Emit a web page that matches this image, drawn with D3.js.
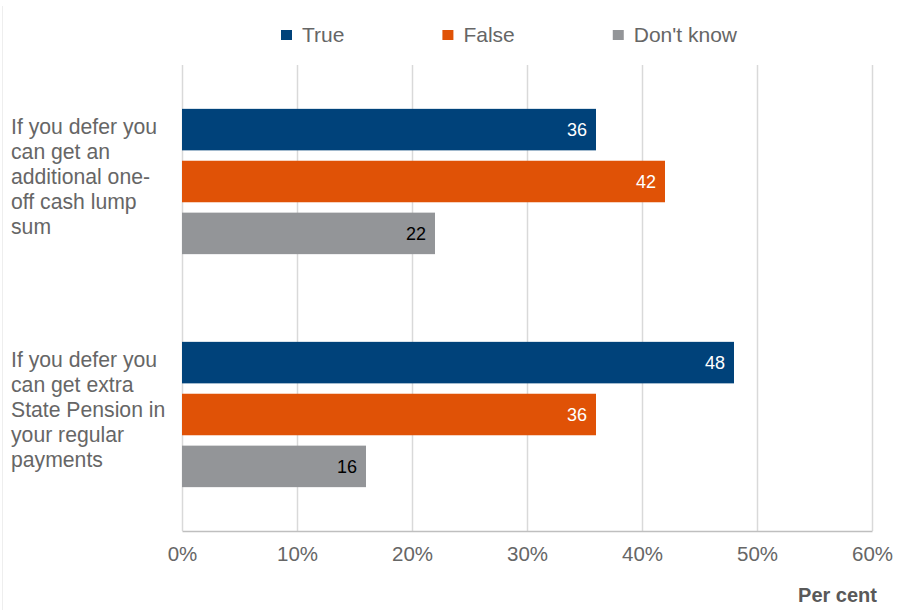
<!DOCTYPE html>
<html>
<head>
<meta charset="utf-8">
<script src="https://cdn.jsdelivr.net/npm/d3@7"></script>
<style>
    body { margin: 0; background: #fff; }
    svg { display: block; font-family: "Liberation Sans", Arial, sans-serif; }
</style>
</head>
<body>
<div id="chart"></div>
<script>
// Data
const categories = [
    ["If you defer you", "can get an", "additional one-", "off cash lump", "sum"],
    ["If you defer you", "can get extra", "State Pension in", "your regular", "payments"]
];
const series = ["True", "False", "Don't know"];
const trueValues = [36, 48];
const falseValues = [42, 36];
const dontKnowValues = [22, 16];
const xTicks = [0, 10, 20, 30, 40, 50, 60];

const colors = ["#00427a", "#e05206", "#939598"];
const labelColors = ["#fff", "#fff", "#000"];

const width = 903, height = 610;
const margin = { top: 65, right: 31, bottom: 79, left: 182 };

const svg = d3.select("#chart")
    .append("svg")
    .attr("width", width)
    .attr("height", height);

// faint left border of the chart box
svg.append("line")
    .attr("x1", 2.5).attr("x2", 2.5)
    .attr("y1", 6).attr("y2", height)
    .attr("stroke", "#eeeeee");

// Scales
const x = d3.scaleLinear().domain([0, 60]).range([margin.left, width - margin.right]);
const y = d3.scaleBand().domain(d3.range(categories.length))
    .range([margin.top, height - margin.bottom]);
const yInner = d3.scaleBand().domain(series)
    .range([0, y.bandwidth()])
    .paddingInner(0.2)
    .paddingOuter(0.845);

// Grid
svg.append("g")
    .selectAll("line")
    .data(xTicks)
    .join("line")
    .attr("x1", d => Math.round(x(d)) + 0.5)
    .attr("x2", d => Math.round(x(d)) + 0.5)
    .attr("y1", margin.top)
    .attr("y2", height - margin.bottom)
    .attr("stroke", "#d9d9d9")
    .attr("stroke-width", 1.5);

// Bottom axis
const gx = svg.append("g")
    .attr("transform", `translate(0, ${height - margin.bottom})`)
    .call(d3.axisBottom(x).tickValues(xTicks).tickSize(0).tickPadding(15).tickFormat(d => d + "%"));
gx.select(".domain").attr("stroke", "#bfbfbf").attr("stroke-width", 1.5);
gx.selectAll("text")
    .attr("font-size", 20.5)
    .attr("fill", "#666666")
    .attr("font-family", "Liberation Sans, Arial, sans-serif");

// Bars
const rows = categories.map((c, i) => ({
    i,
    values: [trueValues[i], falseValues[i], dontKnowValues[i]]
}));

const groups = svg.append("g")
    .selectAll("g")
    .data(rows)
    .join("g")
    .attr("transform", d => `translate(0, ${y(d.i)})`);

groups.selectAll("rect")
    .data(d => d.values.map((v, k) => ({ v, k })))
    .join("rect")
    .attr("x", x(0))
    .attr("y", d => yInner(series[d.k]))
    .attr("width", d => x(d.v) - x(0))
    .attr("height", yInner.bandwidth())
    .attr("fill", d => colors[d.k]);

groups.selectAll("text.val")
    .data(d => d.values.map((v, k) => ({ v, k })))
    .join("text")
    .attr("class", "val")
    .attr("x", d => x(d.v) - 9)
    .attr("y", d => yInner(series[d.k]) + yInner.bandwidth() / 2 + 6.5)
    .attr("text-anchor", "end")
    .attr("font-size", 18)
    .attr("fill", d => labelColors[d.k])
    .text(d => d.v);

// Category labels
const catText = svg.append("g")
    .selectAll("text")
    .data(categories)
    .join("text")
    .attr("font-size", 21.2)
    .attr("fill", "#666666")
    .attr("y", (d, i) => y(i) + y.bandwidth() / 2 - 47.5);

catText.selectAll("tspan")
    .data(d => d)
    .join("tspan")
    .attr("x", 11)
    .attr("dy", (d, j) => j === 0 ? 0 : 25)
    .text(d => d);

// Legend
const legend = svg.append("g").attr("transform", "translate(281, 0)");
let lx = 0;
series.forEach((s, k) => {
    legend.append("rect")
        .attr("x", lx).attr("y", 30)
        .attr("width", 11).attr("height", 10)
        .attr("fill", colors[k]);
    const t = legend.append("text")
        .attr("x", lx + 21).attr("y", 42)
        .attr("font-size", 21)
        .attr("fill", "#666666")
        .text(s);
    lx += 21 + t.node().getComputedTextLength() + 98;
});

// Axis title
svg.append("text")
    .attr("x", 877)
    .attr("y", 602)
    .attr("text-anchor", "end")
    .attr("font-size", 20)
    .attr("font-weight", "bold")
    .attr("fill", "#595959")
    .text("Per cent");
</script>
</body>
</html>
